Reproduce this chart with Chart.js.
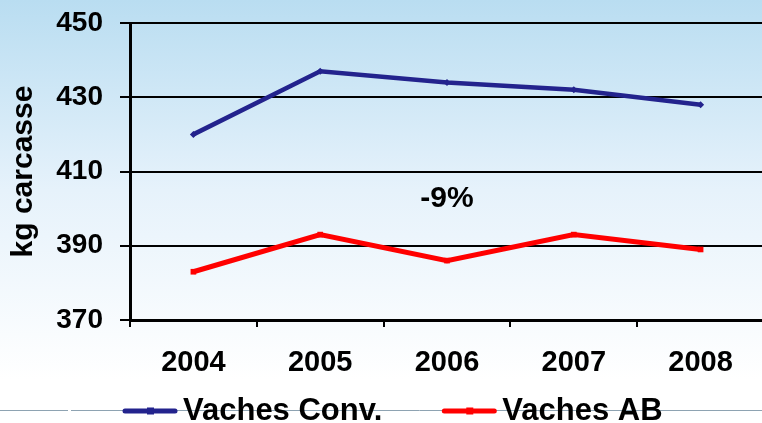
<!DOCTYPE html>
<html>
<head>
<meta charset="utf-8">
<script src="https://cdn.jsdelivr.net/npm/chart.js@4"></script>
<style>
  html, body { margin: 0; padding: 0; overflow: hidden; background: #fff; }
  #wrap { position: relative; width: 768px; height: 435px; }
</style>
</head>
<body>
<div id="wrap"><canvas id="chart"></canvas></div>
<script>
// ── Data ───────────────────────────────────────────
const years = ['2004', '2005', '2006', '2007', '2008'];
const vachesConv = [420, 437, 434, 432, 428];
const vachesAB = [383, 393, 386, 393, 389];
const yTicks = [370, 390, 410, 430, 450];
const annotationText = '-9%';
const annotationAt = { index: 2, value: 402.6 };

const FONT = '"Liberation Sans", Arial, sans-serif';

// background gradient + thin slide rule behind the legend
const backdrop = {
  id: 'backdrop',
  beforeDraw(chart) {
    const { ctx, width, height } = chart;
    const g = ctx.createLinearGradient(0, 0, 0, 380);
    g.addColorStop(0, '#b9ddf1');
    g.addColorStop(0.5, '#e6f2fb');
    g.addColorStop(1, '#ffffff');
    ctx.save();
    ctx.fillStyle = g;
    ctx.fillRect(0, 0, width, height);
    ctx.strokeStyle = '#8ea3b2';
    ctx.lineWidth = 1;
    ctx.beginPath();
    ctx.moveTo(0, 410.5); ctx.lineTo(68, 410.5);
    ctx.moveTo(71, 410.5); ctx.lineTo(width, 410.5);
    ctx.stroke();
    ctx.restore();
  },
};

// "-9%" label placed through the scales
const annotation = {
  id: 'annotation',
  afterDatasetsDraw(chart) {
    const { ctx, scales } = chart;
    const x = scales.x.getPixelForValue(annotationAt.index);
    const y = scales.y.getPixelForValue(annotationAt.value);
    ctx.save();
    ctx.font = 'bold 30px ' + FONT;
    ctx.fillStyle = '#000';
    ctx.textAlign = 'center';
    ctx.textBaseline = 'middle';
    ctx.fillText(annotationText, x, y);
    ctx.restore();
  },
};

// legend drawn by hand: line sample with marker, tight text gap
const legendRow = {
  id: 'legendRow',
  afterDraw(chart) {
    const { ctx } = chart;
    const y = 411;
    let x = 123;
    ctx.save();
    ctx.font = 'bold 31px ' + FONT;
    ctx.textBaseline = 'middle';
    ctx.textAlign = 'left';
    chart.data.datasets.forEach(ds => {
      ctx.strokeStyle = ds.borderColor;
      ctx.lineWidth = 5;
      ctx.lineCap = 'round';
      ctx.beginPath();
      ctx.moveTo(x + 2, y);
      ctx.lineTo(x + 52, y);
      ctx.stroke();
      ctx.fillStyle = ds.borderColor;
      ctx.fillRect(x + 24, y - 3.5, 7, 7);
      ctx.fillStyle = '#000';
      ctx.fillText(ds.label, x + 60, y);
      x += 60 + ctx.measureText(ds.label).width + 60;
    });
    ctx.restore();
  },
};

new Chart(document.getElementById('chart'), {
  type: 'line',
  data: {
    labels: years,
    datasets: [
      {
        label: 'Vaches Conv.',
        data: vachesConv,
        borderColor: '#23238d',
        backgroundColor: '#23238d',
        borderWidth: 4.5,
        pointStyle: 'rectRot',
        pointRadius: 3.5,
        pointBorderWidth: 0,
        tension: 0,
      },
      {
        label: 'Vaches AB',
        data: vachesAB,
        borderColor: '#ff0000',
        backgroundColor: '#ff0000',
        borderWidth: 5,
        pointStyle: 'rect',
        pointRadius: 4,
        pointBorderWidth: 0,
        tension: 0,
      },
    ],
  },
  options: {
    responsive: true,
    maintainAspectRatio: false,
    animation: false,
    layout: { padding: { top: 23, left: 0, right: 0, bottom: 50 } },
    plugins: {
      legend: { display: false },
      tooltip: { enabled: false },
    },
    scales: {
      x: {
        offset: true,
        afterFit: s => { s.height = 65; s.paddingLeft = 0; s.paddingRight = 0; },
        grid: {
          offset: true,
          drawOnChartArea: false,
          drawTicks: true,
          tickLength: 7,
          color: '#000',
          lineWidth: 2,
        },
        border: { color: '#000', width: 3 },
        ticks: {
          color: '#000',
          padding: 19,
          maxRotation: 0,
          font: { family: FONT, size: 29, weight: 'bold' },
        },
      },
      y: {
        min: yTicks[0],
        max: yTicks[yTicks.length - 1],
        afterFit: s => { s.width = 130; s.paddingTop = 0; s.paddingBottom = 0; },
        afterBuildTicks: s => { s.ticks = yTicks.map(v => ({ value: v })); },
        grid: {
          color: '#000',
          lineWidth: 2,
          tickLength: 10,
        },
        border: { color: '#000', width: 3 },
        ticks: {
          color: '#000',
          padding: 17,
          font: { family: FONT, size: 28, weight: 'bold' },
        },
        title: {
          display: true,
          text: 'kg carcasse',
          color: '#000',
          padding: { top: 6, bottom: 0 },
          font: { family: FONT, size: 30, weight: 'bold' },
        },
      },
    },
  },
  plugins: [backdrop, annotation, legendRow],
});
</script>
</body>
</html>
